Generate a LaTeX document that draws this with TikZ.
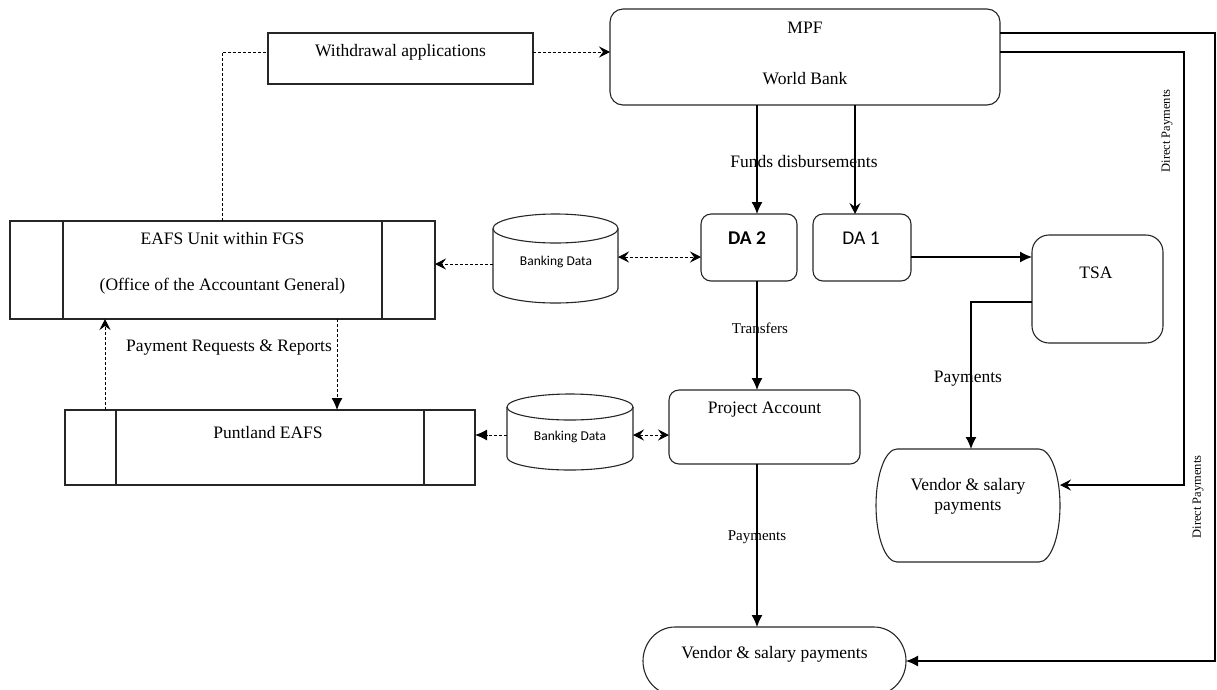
\documentclass[tikz,border=0pt]{standalone}
\usepackage{fontspec}
\setmainfont{Liberation Serif}
\newfontfamily\calib{Carlito}
\usetikzlibrary{arrows.meta}
\tikzset{
  frame/.style={draw=black!85, line width=1.1pt, inner sep=0pt, outer sep=0pt},
  ghost/.style={inner sep=0pt, outer sep=0pt},
  txt/.style={inner sep=0pt, font=\fontsize{17.5}{20}\selectfont},
  smalltxt/.style={inner sep=0pt, font=\fontsize{15}{17}\selectfont},
  dptxt/.style={inner sep=0pt, rotate=90, font=\fontsize{12.5}{14}\selectfont},
  bdtxt/.style={inner sep=0pt, font=\calib\fontsize{13.5}{15}\selectfont},
  solidline/.style={draw=black, line width=1.2pt},
  dashline/.style={draw=black, line width=1pt, dash pattern=on 3pt off 2pt},
  fa/.style={-{Latex[length=12pt,width=11pt]}},
  oa/.style={-{Stealth[length=11pt,width=11pt,inset=4pt]}},
  oab/.style={{Stealth[length=11pt,width=11pt,inset=4pt]}-{Stealth[length=11pt,width=11pt,inset=4pt]}},
  dashhead/.style={dash pattern=on 3pt off 2pt}
}
\begin{document}
\begin{tikzpicture}[x=1pt,y=-1pt]
\useasboundingbox (0,0) rectangle (1217,689);
\clip (0,0) rectangle (1217,689);

% ---- boxes ----
\node[frame, minimum width=265pt, minimum height=51pt] (wd) at (400.5,58.5) {};
\node[txt] (wdt) at (400.5,52) {Withdrawal applications};

\node[frame, rounded corners=13pt, minimum width=390pt, minimum height=96pt] (mpf) at (805,57) {};
\node[txt] (mpft) at (805,28) {MPF};
\node[txt] (wbt) at (805,79) {World Bank};

\node[frame, rounded corners=10pt, minimum width=96pt, minimum height=67pt] (da2) at (749,247.5) {};
\node[inner sep=0pt, font=\calib\bfseries\fontsize{19.5}{22}\selectfont] (da2t) at (747,238) {DA 2};

\node[frame, rounded corners=10pt, minimum width=98pt, minimum height=67pt] (da1) at (862,247.5) {};
\node[inner sep=0pt, font=\calib\fontsize{19.5}{22}\selectfont] (da1t) at (861,238) {DA 1};

\node[frame, rounded corners=17pt, minimum width=131pt, minimum height=108pt] (tsa) at (1097.5,289) {};
\node[txt] (tsat) at (1096,273) {TSA};

\node[frame, rounded corners=10pt, minimum width=191pt, minimum height=74pt] (pa) at (764.5,427) {};
\node[txt] (pat) at (764.5,410) {Project Account};

% EAFS unit
\node[frame, minimum width=425pt, minimum height=98pt] (eafs) at (222.5,270) {};
\draw[frame] ([xshift=53pt]eafs.north west) -- ([xshift=53pt]eafs.south west);
\draw[frame] ([xshift=-53pt]eafs.north east) -- ([xshift=-53pt]eafs.south east);
\node[txt] (eafst1) at (222.5,239) {EAFS Unit within FGS};
\node[txt] (eafst2) at (222.5,286) {(Office of the Accountant General)};

% Puntland EAFS
\node[frame, minimum width=410pt, minimum height=75pt] (pl) at (270,447.5) {};
\draw[frame] ([xshift=51pt]pl.north west) -- ([xshift=51pt]pl.south west);
\draw[frame] ([xshift=-51pt]pl.north east) -- ([xshift=-51pt]pl.south east);
\node[txt] (plt) at (268,433) {Puntland EAFS};

% Banking data cylinders
\node[ghost, minimum width=125pt, minimum height=89pt] (bd1) at (555.5,258.5) {};
\draw[frame] ([yshift=-14.5pt]bd1.north) ellipse [x radius=62.5pt, y radius=14.5pt];
\draw[frame] ([yshift=-14.5pt]bd1.north west) -- ([yshift=14.5pt]bd1.south west)
  arc[start angle=180, end angle=360, x radius=62.5pt, y radius=14.5pt]
  -- ([yshift=-14.5pt]bd1.north east);
\node[bdtxt] (bd1t) at (556,262) {Banking Data};

\node[ghost, minimum width=126pt, minimum height=76pt] (bd2) at (570,432) {};
\draw[frame] ([yshift=-13pt]bd2.north) ellipse [x radius=63pt, y radius=13pt];
\draw[frame] ([yshift=-13pt]bd2.north west) -- ([yshift=13pt]bd2.south west)
  arc[start angle=180, end angle=360, x radius=63pt, y radius=13pt]
  -- ([yshift=-13pt]bd2.north east);
\node[bdtxt] (bd2t) at (570,437) {Banking Data};

% Vendor & salary payments (right)
\node[ghost, minimum width=184pt, minimum height=113pt] (v1) at (968,505.5) {};
\draw[frame] ([xshift=21pt]v1.north west) -- ([xshift=-21pt]v1.north east)
  arc[start angle=90, end angle=-90, x radius=21pt, y radius=56.5pt]
  -- ([xshift=21pt]v1.south west)
  arc[start angle=270, end angle=90, x radius=21pt, y radius=56.5pt] -- cycle;
\node[txt, align=center] (v1t) at (968,496.5) {Vendor \& salary\\payments};

% Vendor & salary payments (bottom)
\node[ghost, minimum width=263pt, minimum height=68pt] (v2) at (774.5,661) {};
\draw[frame] ([xshift=32pt]v2.north west) -- ([xshift=-32pt]v2.north east)
  arc[start angle=90, end angle=-90, x radius=32pt, y radius=34pt]
  -- ([xshift=32pt]v2.south west)
  arc[start angle=270, end angle=90, x radius=32pt, y radius=34pt] -- cycle;
\node[txt] (v2t) at (774.5,654) {Vendor \& salary payments};

% ---- connectors ----
\coordinate (c1) at (1184,52);
\coordinate (c2) at (1215,33);

% EAFS -> Withdrawal (dashed, no head)
\draw[dashline] ([xshift=-0.5pt]eafs.north) |- ([yshift=6.5pt]wd.west);
% Withdrawal -> MPF
\draw[dashline, oa] ([yshift=6.5pt]wd.east) -- ([yshift=6.5pt]wd.east -| mpf.west);

% Funds disbursements
\draw[solidline, fa] ([xshift=8pt]da2.north |- mpf.south) -- ([xshift=8pt]da2.north);
\draw[solidline, oa] ([xshift=-7pt]da1.north |- mpf.south) -- ([xshift=-7pt]da1.north);
\node[txt] (fdl) at (804,162) {Funds disbursements};

% DA1 -> TSA
\draw[solidline, fa] ([yshift=-9.5pt]da1.east) -- ([yshift=-9.5pt]da1.east -| tsa.west);
% TSA -> Vendor (right)
\draw[solidline, fa] ([yshift=-13pt]tsa.west) -| ([xshift=3pt]v1.north);
\node[txt] (payl1) at (968,379) {Payments};

% Direct payments
\draw[solidline, oa] ([yshift=5pt]mpf.east) -- (c1) |- ([yshift=20.5pt]v1.east);
\draw[solidline, fa] ([yshift=24pt]mpf.east) -- (c2) |- (v2.east);
\node[dptxt] (dpl1) at (1167,131) {Direct Payments};
\node[dptxt] (dpl2) at (1198,497) {Direct Payments};

% Banking data links
\draw[dashline, oab] ([yshift=1.5pt]bd1.east) -- ([yshift=1.5pt]bd1.east -| da2.west);
\draw[dashline, oa] ([yshift=-5.5pt]bd1.west) -- ([yshift=-5.5pt]bd1.west -| eafs.east);
\draw[dashline, oab] ([yshift=-3pt]bd2.east) -- ([yshift=-3pt]bd2.east -| pa.west);
\draw[dashline, fa] ([yshift=-3pt]bd2.west) -- ([yshift=-3pt]bd2.west -| pl.east);

% DA2 -> Project Account
\draw[solidline, fa] ([xshift=8pt]da2.south) -- ([xshift=8pt]da2.south |- pa.north);
\node[smalltxt] (trl) at (760,328) {Transfers};

% EAFS <-> Puntland
\draw[dashline, oa] ([xshift=-165pt]pl.north) -- ([xshift=-165pt]pl.north |- eafs.south);
\draw[dashline, fa] ([xshift=114.5pt]eafs.south) -- ([xshift=114.5pt]eafs.south |- pl.north);
\node[txt] (prl) at (229,348) {Payment Requests \& Reports};

% Project Account -> Vendor (bottom)
\draw[solidline, fa] ([xshift=-7.5pt]pa.south) -- ([xshift=-7.5pt]pa.south |- v2.north);
\node[smalltxt] (payl2) at (757,537) {Payments};
\end{tikzpicture}
\end{document}
